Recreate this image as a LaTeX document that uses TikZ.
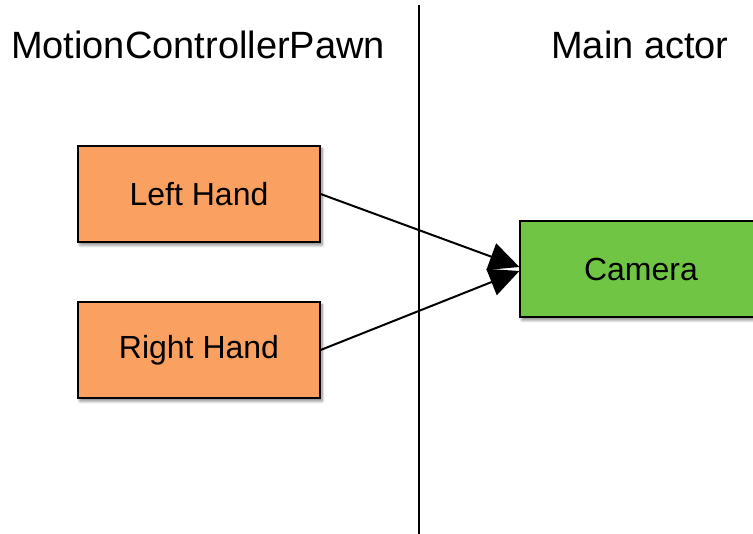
\documentclass[tikz,border=0pt]{standalone}
\usepackage{fontspec}
\setmainfont{Liberation Sans}
\usetikzlibrary{arrows.meta,shadows.blur}
\tikzset{
  hand/.style={draw=black,line width=1.2pt,fill=handorange,minimum width=242pt,
    minimum height=96pt,font=\fontsize{32}{36}\selectfont,
    blur shadow={shadow xshift=2pt,shadow yshift=-3pt,shadow blur radius=3pt,
      shadow blur steps=6,shadow opacity=50}},
  cam/.style={hand,fill=camgreen},
  title/.style={font=\fontsize{38}{42}\selectfont}
}
\definecolor{handorange}{RGB}{250,160,96}
\definecolor{camgreen}{RGB}{112,198,68}
\begin{document}
\begin{tikzpicture}[x=1pt,y=1pt]
      \useasboundingbox (0,0) rectangle (753,534);
      \draw
        (198,489) node[title] (pawn){MotionControllerPawn}
        (640,489) node[title] (actor){Main actor}
        (199,340) node[hand] (left){Left Hand}
        (199,184) node[hand] (right){Right Hand}
        (641,265) node[cam] (camera){Camera};
      \coordinate (top) at (419,529);
      \coordinate (bottom) at (419,0);
      \draw[line width=1.3pt] (top) -- (bottom);
      \begin{scope}[line width=2pt,-{Triangle[length=30pt,width=28pt]}]
        \draw (left.east) to ([yshift=2pt]camera.west);
        \draw (right.east) to ([yshift=-2pt]camera.west);
      \end{scope}
    \end{tikzpicture}
\end{document}
